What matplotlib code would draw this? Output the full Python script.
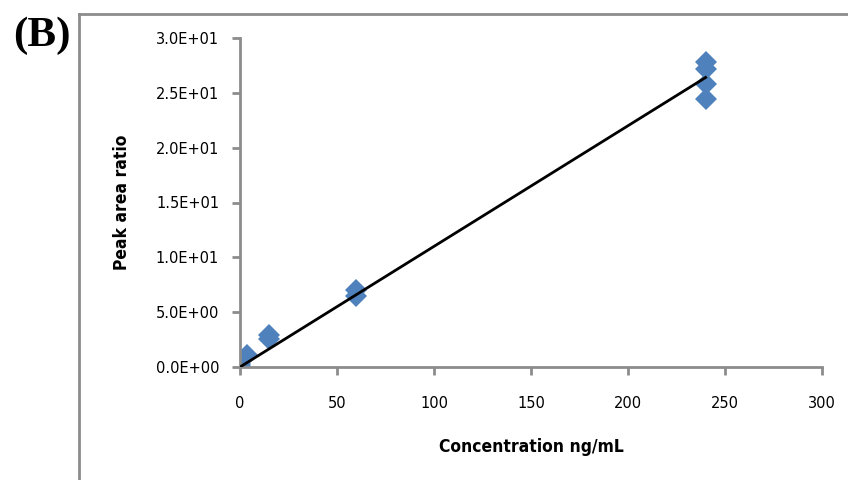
import matplotlib
matplotlib.use('Agg')
import matplotlib.pyplot as plt
from matplotlib.lines import Line2D
from matplotlib.ticker import FuncFormatter

# calibration points
conc = [0, 0, 3.75, 15, 15, 60, 60, 240, 240, 240, 240]
ratio = [0.1, 0.3, 1.1, 2.55, 2.9, 6.5, 7.0, 24.4, 25.8, 27.2, 27.8]

# fitted line
fit_x = [0, 240]
slope = 0.11
intercept = 0.0

x_ticks = [0, 50, 100, 150, 200, 250, 300]
y_ticks = [0, 5, 10, 15, 20, 25, 30]

grey = '#8c8c8c'
blue = '#4F81BD'

fig = plt.figure(figsize=(8.48, 4.8), dpi=100)
ax = fig.add_axes([240/848, 1-367/480, (822-240)/848, (367-38)/480])

ax.plot(conc, ratio, 'D', color=blue, markersize=11, markeredgewidth=0, zorder=2)
ax.plot(fit_x, [slope*x + intercept for x in fit_x], color='black', lw=2, zorder=3)

ax.set_xlim(0, 300)
ax.set_ylim(0, 30)
ax.set_xticks(x_ticks)
ax.set_yticks(y_ticks)
ax.yaxis.set_major_formatter(FuncFormatter(lambda v, p: '%.1E' % v))

for s in ['top', 'right']:
    ax.spines[s].set_visible(False)
for s in ['left', 'bottom']:
    ax.spines[s].set_color(grey)
    ax.spines[s].set_linewidth(2)
ax.tick_params(colors=grey, width=2, length=6, labelcolor='black', labelsize=10.5)
ax.tick_params(axis='x', pad=15)
ax.tick_params(axis='y', pad=9)

lab = dict(family='DejaVu Sans', stretch='condensed', fontweight='bold', fontsize=12.5)
ax.set_xlabel('Concentration ng/mL', labelpad=19, **lab)
ax.set_ylabel('Peak area ratio', labelpad=18, **lab)

# outer frame of the panel
fig.add_artist(Line2D([79/848, 79/848], [0, 1-14/480], color=grey, lw=2, transform=fig.transFigure))
fig.add_artist(Line2D([79/848, 1], [1-14/480, 1-14/480], color=grey, lw=2, transform=fig.transFigure))

fig.text(13/848, 1-46/480, '(B)', family='Liberation Serif', fontweight='bold', fontsize=31)

fig.savefig('out.png', dpi=100)
